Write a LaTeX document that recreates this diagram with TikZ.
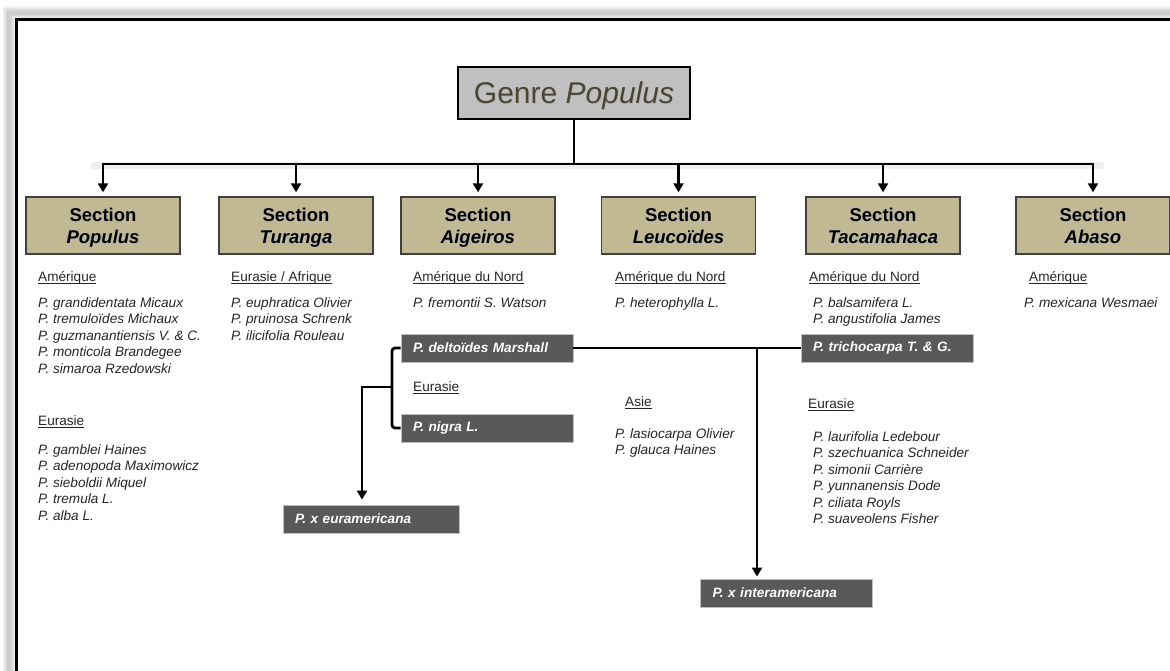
\documentclass[tikz,border=0pt]{standalone}
\usepackage{fontspec}
\setmainfont{Liberation Sans}
\usetikzlibrary{arrows.meta}

\definecolor{sectfill}{RGB}{193,185,148}
\definecolor{genrefill}{RGB}{192,192,192}
\definecolor{hybfill}{RGB}{89,89,89}
\definecolor{genretext}{RGB}{74,70,52}
\definecolor{listtext}{RGB}{38,38,38}

% text with a soft offset shadow
\newcommand\shadowed[1]{\leavevmode\rlap{\kern1pt\raisebox{-1pt}{\color{black!28}#1}}#1}
% thin underline close to the baseline
\newcommand\uline[1]{\setbox0=\hbox{#1}\rlap{\rule[-2.2pt]{\wd0}{0.7pt}}\box0}
% a left-aligned list whose baseline is that of its first line
\newcommand\lines[1]{\begin{tabular}[t]{@{}l@{}}#1\end{tabular}}
% two-line section title
\newcommand\secttitle[1]{\shadowed{Section}\strut\\\shadowed{\itshape #1}\strut}

\begin{document}
\begin{tikzpicture}[x=1pt,y={(0pt,-1pt)},
  conn/.style={line width=2.8pt},
  tip/.style={-{Triangle[width=10pt,length=9pt]}},
  sectbox/.style={draw=black!75,line width=1.4pt,fill=sectfill,minimum width=154pt,minimum height=57pt,inner sep=0pt},
  secttext/.style={inner sep=0pt,align=center,font=\fontsize{18.5}{22}\selectfont\bfseries},
  hybbox/.style={draw=black!25,line width=0.8pt,fill=hybfill,text=white,inner xsep=12pt,inner ysep=0pt,
    minimum height=28pt,text width=148pt,align=left,font=\fontsize{13.6}{16}\selectfont\bfseries\itshape},
  head/.style={anchor=base west,inner sep=0pt,text=listtext,font=\fontsize{13.6}{16.4}\selectfont},
  species/.style={anchor=base west,inner sep=0pt,text=listtext,font=\fontsize{13.6}{16.4}\selectfont\itshape},
]
\useasboundingbox (0,0) rectangle (1170,671);
\clip (0,0) rectangle (1170,671);
\fill[white] (0,0) rectangle (1170,671);

% page frame with its soft shadow
\foreach \w in {13,10,7,4}
  \draw[line width=\w pt,black,opacity=0.05] (9,700) |- (1200,13);
\draw[line width=3pt] (16,700) |- (1200,20);

% genus box
\node[draw,line width=2.8pt,fill=genrefill,minimum width=232pt,minimum height=52pt,inner sep=0pt] (genre) at (574,93) {};
\node[inner sep=0pt,font=\fontsize{30}{34}\selectfont,text=genretext] (genreT) at ([yshift=-3pt]genre.center) {\shadowed{Genre \textit{Populus}}};

% sections
\node[sectbox] (sPop) at (103,225.5) {};
\node[sectbox] (sTur) at (296,225.5) {};
\node[sectbox] (sAig) at (478,225.5) {};
\node[sectbox] (sLeu) at (678.5,225.5) {};
\node[sectbox] (sTac) at (883,225.5) {};
\node[sectbox] (sAba) at (1093,225.5) {};
\node[secttext] (sPopT) at ([yshift=-3pt]sPop.center) {\secttitle{Populus}};
\node[secttext] (sTurT) at ([yshift=-3pt]sTur.center) {\secttitle{Turanga}};
\node[secttext] (sAigT) at ([yshift=-3pt]sAig.center) {\secttitle{Aigeiros}};
\node[secttext] (sLeuT) at ([yshift=-3pt]sLeu.center) {\secttitle{Leucoïdes}};
\node[secttext] (sTacT) at ([yshift=-3pt]sTac.center) {\secttitle{Tacamahaca}};
\node[secttext] (sAbaT) at ([yshift=-3pt]sAba.center) {\secttitle{Abaso}};

% tree from the genus to the sections
\coordinate (barY) at (0,164);
\draw[line width=7pt,black,opacity=0.07,line cap=round] (94,166) -- (1101,166);
\draw[conn] (genre.south) -- (genre.south |- barY);
\draw[conn,line cap=rect] (sPop.north |- barY) -- (sAba.north |- barY);
\foreach \s in {sPop,sTur,sAig,sLeu,sTac,sAba}
  \draw[conn,tip,shorten >=4pt] (\s.north |- barY) -- (\s.north);

% Section Populus
\node[head] (hPopA) at (38,281.5) {\uline{Amérique}};
\node[species] (lPopA) at (38,307.5) {\lines{P. grandidentata Micaux\\P. tremuloïdes Michaux\\P. guzmanantiensis V. \& C.\\P. monticola Brandegee\\P. simaroa Rzedowski}};
\node[head] (hPopE) at (38,425.5) {\uline{Eurasie}};
\node[species] (lPopE) at (38,454.5) {\lines{P. gamblei Haines\\P. adenopoda Maximowicz\\P. sieboldii Miquel\\P. tremula L.\\P. alba L.}};

% Section Turanga
\node[head] (hTur) at (231,281.5) {\uline{Eurasie / Afrique}};
\node[species] (lTur) at (231,307.5) {\lines{P. euphratica Olivier\\P. pruinosa Schrenk\\P. ilicifolia Rouleau}};

% Section Aigeiros
\node[head] (hAigA) at (413,281.5) {\uline{Amérique du Nord}};
\node[species] (lAigA) at (413,307.5) {P. fremontii S. Watson};
\node[hybbox] (delt) at (487,348) {P. deltoïdes Marshall};
\node[head] (hAigE) at (413,391.5) {\uline{Eurasie}};
\node[hybbox] (nigra) at (487,428) {P. nigra L.};

% Section Leucoides
\node[head] (hLeuA) at (615,281.5) {\uline{Amérique du Nord}};
\node[species] (lLeuA) at (615,307.5) {P. heterophylla L.};
\node[head] (hLeuS) at (625,406.5) {\uline{Asie}};
\node[species] (lLeuS) at (615,438.5) {\lines{P. lasiocarpa Olivier\\P. glauca Haines}};

% Section Tacamahaca
\node[head] (hTacA) at (809,281.5) {\uline{Amérique du Nord}};
\node[species] (lTacA) at (813,307.5) {\lines{P. balsamifera L.\\P. angustifolia James}};
\node[hybbox] (trich) at (887,348) {P. trichocarpa T. \& G.};
\node[head] (hTacE) at (808,408.5) {\uline{Eurasie}};
\node[species] (lTacE) at (813,441.5) {\lines{P. laurifolia Ledebour\\P. szechuanica Schneider\\P. simonii Carrière\\P. yunnanensis Dode\\P. ciliata Royls\\P. suaveolens Fisher}};

% Section Abaso
\node[head] (hAba) at (1029,281.5) {\uline{Amérique}};
\node[species] (lAba) at (1024,307.5) {P. mexicana Wesmaei};

% hybrids
\node[hybbox,text width=152pt] (eura) at (371,519) {P. x euramericana};
\node[hybbox] (inter) at (786.5,593) {P. x interamericana};

\coordinate (brk) at (392,387);
\draw[conn,rounded corners=3pt] (delt.west) -| (brk) |- (nigra.west);
\coordinate (euraIn) at (362,0);
\draw[conn,tip,shorten >=5pt] (brk) -| (euraIn |- eura.north);

\coordinate (drop) at (757,0);
\draw[conn] (delt.east) -- (delt.east -| trich.west);
\draw[conn,tip,shorten >=2pt] (drop |- delt.east) -- (drop |- inter.north);
\end{tikzpicture}
\end{document}
